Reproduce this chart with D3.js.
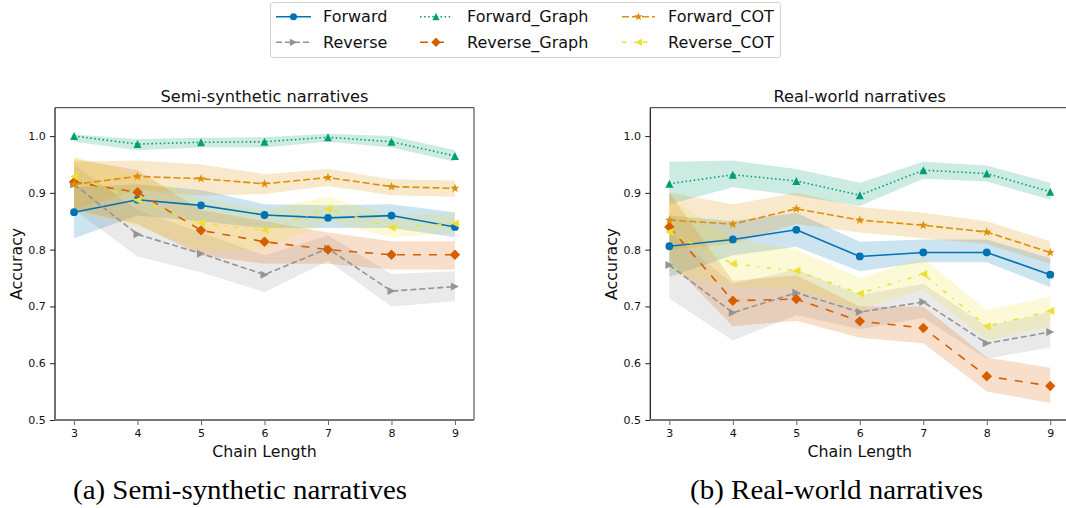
<!DOCTYPE html>
<html><head><meta charset="utf-8">
<script src="https://cdn.jsdelivr.net/npm/d3@7"></script>
<style>
body{margin:0;background:#fff;}
svg{display:block;font-family:"DejaVu Sans",sans-serif;}
</style></head>
<body><svg id="c" width="1066" height="508"></svg>
<script>
const chainLengths = [3,4,5,6,7,8,9];
const seriesNames = ["Forward","Reverse","Forward_Graph","Reverse_Graph","Forward_COT","Reverse_COT"];
const yTicks = [0.5,0.6,0.7,0.8,0.9,1.0];

// Semi-synthetic narratives
const semiForward      = [0.866,0.888,0.878,0.861,0.856,0.860,0.840];
const semiForwardLo    = [0.820,0.860,0.850,0.838,0.838,0.838,0.822];
const semiForwardHi    = [0.910,0.915,0.905,0.880,0.878,0.880,0.866];
const semiReverse      = [0.915,0.827,0.793,0.756,0.802,0.727,0.735];
const semiReverseLo    = [0.870,0.788,0.760,0.725,0.780,0.700,0.709];
const semiReverseHi    = [0.950,0.870,0.830,0.790,0.825,0.757,0.762];
const semiFGraph       = [1.000,0.986,0.989,0.990,0.998,0.990,0.965];
const semiFGraphLo     = [0.990,0.975,0.980,0.980,0.990,0.980,0.955];
const semiFGraphHi     = [1.003,0.995,0.997,0.998,1.004,1.000,0.975];
const semiRGraph       = [0.919,0.901,0.834,0.814,0.800,0.791,0.791];
const semiRGraphLo     = [0.870,0.845,0.790,0.775,0.775,0.765,0.765];
const semiRGraphHi     = [0.960,0.940,0.870,0.850,0.830,0.815,0.815];
const semiFCot         = [0.915,0.929,0.925,0.916,0.927,0.911,0.908];
const semiFCotLo       = [0.870,0.905,0.895,0.898,0.912,0.896,0.893];
const semiFCotHi       = [0.955,0.957,0.950,0.933,0.942,0.924,0.922];
const semiRCot         = [0.929,0.887,0.847,0.834,0.872,0.839,0.846];
const semiRCotLo       = [0.870,0.840,0.800,0.800,0.850,0.822,0.830];
const semiRCotHi       = [0.965,0.930,0.890,0.870,0.893,0.860,0.865];

// Real-world narratives
const realForward      = [0.806,0.818,0.835,0.788,0.795,0.795,0.756];
const realForwardLo    = [0.752,0.790,0.805,0.762,0.778,0.778,0.734];
const realForwardHi    = [0.860,0.850,0.865,0.814,0.818,0.818,0.785];
const realReverse      = [0.773,0.689,0.724,0.690,0.708,0.635,0.655];
const realReverseLo    = [0.714,0.640,0.685,0.660,0.680,0.608,0.628];
const realReverseHi    = [0.830,0.740,0.765,0.720,0.740,0.665,0.690];
const realFGraph       = [0.916,0.932,0.921,0.896,0.940,0.934,0.902];
const realFGraphLo     = [0.880,0.910,0.895,0.877,0.925,0.920,0.888];
const realFGraphHi     = [0.955,0.957,0.942,0.918,0.955,0.948,0.918];
const realRGraph       = [0.840,0.710,0.713,0.674,0.662,0.577,0.560];
const realRGraphLo     = [0.780,0.665,0.675,0.645,0.635,0.550,0.530];
const realRGraphHi     = [0.900,0.745,0.755,0.700,0.700,0.610,0.592];
const realFCot         = [0.852,0.845,0.872,0.852,0.843,0.831,0.795];
const realFCotLo       = [0.800,0.810,0.845,0.830,0.820,0.810,0.775];
const realFCotHi       = [0.900,0.880,0.900,0.875,0.865,0.850,0.815];
const realRCot         = [0.831,0.775,0.763,0.723,0.757,0.665,0.692];
const realRCotLo       = [0.760,0.735,0.730,0.695,0.730,0.640,0.665];
const realRCotHi       = [0.890,0.820,0.800,0.750,0.785,0.693,0.718];

const colors = {Forward:"#0173b2",Reverse:"#949494",Forward_Graph:"#029e73",Reverse_Graph:"#d55e00",Forward_COT:"#de8f05",Reverse_COT:"#ece133"};
const dashes = {Forward:null,Reverse:"6,3",Forward_Graph:"1.5,2.6",Reverse_Graph:"8,8",Forward_COT:"7,3",Reverse_COT:"4.5,7.5,1.5,7.5"};
const markers = {Forward:"circle",Reverse:"right",Forward_Graph:"up",Reverse_Graph:"diamond",Forward_COT:"star",Reverse_COT:"left"};

function markerPath(type){
  const r=4;
  switch(type){
    case "circle": return d3.symbol(d3.symbolCircle, Math.PI*3.9*3.9)();
    case "up": return `M0,${-r}L${-r},${r}L${r},${r}Z`;
    case "right": return `M${r},0L${-r},${-r}L${-r},${r}Z`;
    case "left": return `M${-r},0L${r},${-r}L${r},${r}Z`;
    case "diamond": {const d=5.2; return `M0,${-d}L${d},0L0,${d}L${-d},0Z`;}
    case "star": {
      const R=4.8, ri=R*0.4; let p="";
      for(let i=0;i<10;i++){const a=-Math.PI/2+i*Math.PI/5; const rr=i%2?ri:R; p+=(i?"L":"M")+(rr*Math.cos(a)).toFixed(2)+","+(rr*Math.sin(a)).toFixed(2);}
      return p+"Z";
    }
  }
}

const panels = [
  {title:"Semi-synthetic narratives", x0:55, caption:"(a) Semi-synthetic narratives", capX:240, capW:334, ylabBase:22,
   data:{Forward:[semiForward,semiForwardLo,semiForwardHi],Reverse:[semiReverse,semiReverseLo,semiReverseHi],
         Forward_Graph:[semiFGraph,semiFGraphLo,semiFGraphHi],Reverse_Graph:[semiRGraph,semiRGraphLo,semiRGraphHi],
         Forward_COT:[semiFCot,semiFCotLo,semiFCotHi],Reverse_COT:[semiRCot,semiRCotLo,semiRCotHi]}},
  {title:"Real-world narratives", x0:650.3, caption:"(b) Real-world narratives", capX:836.5, capW:293, ylabBase:617,
   data:{Forward:[realForward,realForwardLo,realForwardHi],Reverse:[realReverse,realReverseLo,realReverseHi],
         Forward_Graph:[realFGraph,realFGraphLo,realFGraphHi],Reverse_Graph:[realRGraph,realRGraphLo,realRGraphHi],
         Forward_COT:[realFCot,realFCotLo,realFCotHi],Reverse_COT:[realRCot,realRCotLo,realRCotHi]}}
];

const svg = d3.select("#c");
const W = 419, plotTop = 107.7, plotBottom = 420;

panels.forEach(p=>{
  const x = d3.scaleLinear().domain([2.7,9.3]).range([p.x0,p.x0+W]);
  const y = d3.scaleLinear().domain([0.5,1.05]).range([plotBottom,plotTop]);
  const g = svg.append("g");
  const clipId = "clip"+Math.round(p.x0);
  svg.append("clipPath").attr("id",clipId).append("rect").attr("x",p.x0).attr("y",plotTop).attr("width",W).attr("height",plotBottom-plotTop);
  const plot = g.append("g").attr("clip-path",`url(#${clipId})`);

  seriesNames.forEach(s=>{
    const [v,lo,hi]=p.data[s];
    const area = d3.area().x((d,i)=>x(chainLengths[i])).y0((d,i)=>y(lo[i])).y1((d,i)=>y(hi[i]));
    plot.append("path").attr("d",area(v)).attr("fill",colors[s]).attr("fill-opacity",0.2).attr("stroke","none");
  });
  seriesNames.forEach(s=>{
    const v=p.data[s][0];
    const line = d3.line().x((d,i)=>x(chainLengths[i])).y(d=>y(d));
    plot.append("path").attr("d",line(v)).attr("fill","none").attr("stroke",colors[s]).attr("stroke-width",1.6)
      .attr("stroke-dasharray",dashes[s]);
    plot.selectAll(null).data(v).enter().append("path")
      .attr("d",markerPath(markers[s]))
      .attr("transform",(d,i)=>`translate(${x(chainLengths[i])},${y(d)})`)
      .attr("fill",colors[s]);
  });

  const ax = g.append("g").attr("transform",`translate(0,${plotBottom})`)
    .call(d3.axisBottom(x).tickValues(chainLengths).tickFormat(d3.format("d")).tickSize(5).tickPadding(4.5));
  ax.select(".domain").remove();
  ax.selectAll(".tick line").attr("stroke","#666").attr("stroke-width",1);
  ax.selectAll("text").attr("font-size",11).attr("fill","#111").attr("font-family","DejaVu Sans");
  const ay = g.append("g").attr("transform",`translate(${p.x0},0)`)
    .call(d3.axisLeft(y).tickValues(yTicks).tickFormat(d3.format(".1f")).tickSize(5).tickPadding(4.3));
  ay.select(".domain").remove();
  ay.selectAll(".tick line").attr("stroke","#222").attr("stroke-width",1);
  ay.selectAll("text").attr("font-size",11).attr("fill","#111").attr("font-family","DejaVu Sans");

  g.append("line").attr("x1",p.x0).attr("x2",p.x0+W).attr("y1",plotTop).attr("y2",plotTop).attr("stroke","#333").attr("stroke-width",1);
  g.append("line").attr("x1",p.x0+W).attr("x2",p.x0+W).attr("y1",plotTop).attr("y2",plotBottom).attr("stroke","#333").attr("stroke-width",1);
  g.append("line").attr("x1",p.x0).attr("x2",p.x0).attr("y1",plotTop).attr("y2",plotBottom).attr("stroke","#222").attr("stroke-width",1.3);
  g.append("line").attr("x1",p.x0-0.6).attr("x2",p.x0+W).attr("y1",plotBottom).attr("y2",plotBottom).attr("stroke","#777").attr("stroke-width",2);

  g.append("text").attr("x",p.x0+W/2).attr("y",plotTop-6).attr("text-anchor","middle").attr("font-size",16.2).attr("fill","#111").text(p.title);
  g.append("text").attr("x",p.x0+W/2).attr("y",457).attr("text-anchor","middle").attr("font-size",15.8).attr("fill","#111").text("Chain Length");
  g.append("text").attr("transform",`translate(${p.ylabBase},${(plotTop+plotBottom)/2}) rotate(-90)`).attr("text-anchor","middle").attr("font-size",15.8).attr("fill","#111").text("Accuracy");
  g.append("text").attr("x",p.capX).attr("y",499).attr("text-anchor","middle")
    .attr("font-family","'Liberation Serif','Times New Roman',serif").attr("font-size",27.5).attr("fill","#000")
    .attr("textLength",p.capW).attr("lengthAdjust","spacingAndGlyphs").text(p.caption);
});

const lg = svg.append("g");
lg.append("rect").attr("x",270.5).attr("y",2.5).attr("width",510).attr("height",55).attr("rx",3)
  .attr("fill","#fff").attr("stroke","#d0d0d0").attr("stroke-width",1);
const colX = [[276,311,323],[420,452,467],[622,655,668]];
const rowY = [16.7,42.3];
seriesNames.forEach((s,i)=>{
  const col = Math.floor(i/2), row = i%2;
  const [a,b,tx]=colX[col], yy=rowY[row];
  lg.append("line").attr("x1",a).attr("x2",b).attr("y1",yy).attr("y2",yy).attr("stroke",colors[s]).attr("stroke-width",1.6).attr("stroke-dasharray",dashes[s]);
  lg.append("path").attr("d",markerPath(markers[s])).attr("transform",`translate(${(a+b)/2},${yy}) scale(0.9)`).attr("fill",colors[s]);
  lg.append("text").attr("x",tx).attr("y",yy).attr("dy","0.35em").attr("font-size",16).attr("fill","#111").text(s);
});
</script></body></html>
